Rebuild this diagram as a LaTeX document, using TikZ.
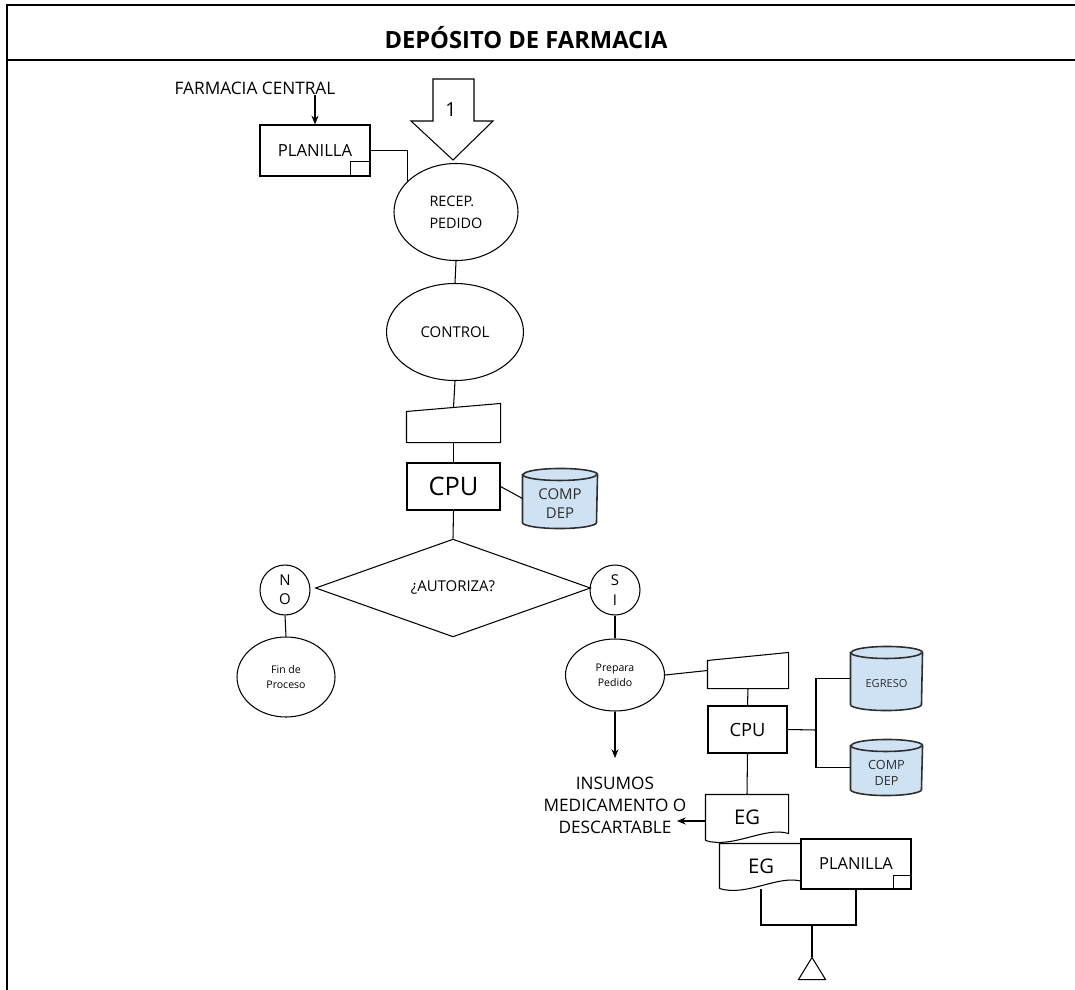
\documentclass[tikz,border=0pt]{standalone}
\usepackage{fontspec}
\setmainfont{Open Sans}
\usetikzlibrary{shapes.geometric,arrows.meta,backgrounds}
\newlength\pxu
\setlength\pxu{0.02cm}
\definecolor{dbfill}{HTML}{CFE2F3}
\definecolor{dbline}{HTML}{2E2E2E}
% cylinder drawn round a hidden rectangular node: #1 node name, #2 half width in px
\newcommand\cylshape[2]{%
  \filldraw[fill=dbfill,draw=dbline,line width=0.9pt]
    ([yshift=-6\pxu]#1.north west) -- ([yshift=6\pxu]#1.south west)
    arc[start angle=180,end angle=360,x radius=#2\pxu,y radius=6\pxu]
    -- ([yshift=-6\pxu]#1.north east)
    arc[start angle=0,end angle=180,x radius=#2\pxu,y radius=6\pxu] -- cycle;
  \draw[draw=dbline,line width=0.9pt] ([yshift=-6\pxu]#1.north west)
    arc[start angle=180,end angle=360,x radius=#2\pxu,y radius=6\pxu];}
\begin{document}
\begin{tikzpicture}[x=0.02cm,y=-0.02cm,line width=0.6pt,
  every node/.style={inner sep=0pt,align=center},
  oval/.style={draw,ellipse,inner sep=0pt},
  rbox/.style={draw,rectangle,inner sep=0pt},
  hid/.style={rectangle,inner sep=0pt},
  fmain/.style={font=\fontsize{8.5}{11}\selectfont},
  fsmall/.style={font=\fontsize{6}{8.5}\selectfont},
  fbig/.style={font=\fontsize{9.8}{12.6}\selectfont},
  dbtext/.style={text=dbline,yshift=-5\pxu},
  arr/.style={-{Stealth[length=5pt,width=4pt]}}]
\useasboundingbox (0,0) rectangle (1075,990);
% frame
\draw (7,990) -- (7,5) -- (1075,5);
\draw (7,60) -- (1075,60);
\node[font=\bfseries\fontsize{13.5}{15}\selectfont] (title) at (526,38) {DEPÓSITO DE FARMACIA};

% top left
\node[font=\fontsize{9.8}{12}\selectfont] (fc) at (255,88) {FARMACIA CENTRAL};
\node[rbox,font=\fontsize{9.5}{12}\selectfont,minimum width=110\pxu,minimum height=51\pxu] (pl1) at (315,150.5) {PLANILLA};
\draw ([xshift=-20\pxu]pl1.south east) rectangle ([yshift=15\pxu]pl1.south east);
\draw[arr] (fc.south -| pl1.north) -- (pl1.north);

% block arrow 1
\draw (433,79) -- (474,79) -- (474,121) -- (493,121) -- (453,160) -- (411,121) -- (433,121) -- cycle;
\node[font=\fontsize{11}{13}\selectfont] (one) at (451,110) {1};

% main column
\node[oval,font=\fontsize{8.2}{12.5}\selectfont,minimum width=124\pxu,minimum height=97\pxu,align=left] (recep) at (456,212) {RECEP.\\PEDIDO};
\draw (pl1.east) -| (recep.148);
\node[oval,fmain,minimum width=137\pxu,minimum height=97\pxu] (ctrl) at (455,332) {CONTROL};
\draw (recep.south) -- (ctrl.north);
\node[hid,minimum width=93\pxu,minimum height=38\pxu] (mi1) at (453.5,423) {};
\draw (mi1.south west) -- (mi1.south east) -- (mi1.north east) -- ([yshift=-8\pxu]mi1.north west) -- cycle;
\draw (ctrl.south) -- ([yshift=-4\pxu]mi1.north);
\node[rbox,font=\fontsize{14.5}{16}\selectfont,minimum width=93\pxu,minimum height=47\pxu] (cpu1) at (453.5,486.5) {CPU};
\draw (mi1.south) -- (cpu1.north);
\node[hid,minimum width=74\pxu,minimum height=59\pxu,
  label={[fmain,dbtext]center:COMP\\DEP}] (db1) at (560,498.5) {};
\begin{scope}[on background layer]\cylshape{db1}{37}\end{scope}
\draw (cpu1.east) -- (db1.west);

% decision
\node[draw,diamond,minimum width=275\pxu,minimum height=96\pxu,fmain] (aut) at (453,588) {¿AUTORIZA?};
\draw (cpu1.south) -- (aut.north);
\node[draw,circle,minimum size=50\pxu,fmain] (no) at (285,590) {N\\O};
\node[draw,circle,minimum size=50\pxu,fmain] (si) at (615,590) {S\\I};
\node[oval,fsmall,minimum width=98\pxu,minimum height=80\pxu] (fin) at (286,677) {Fin de\\Proceso};
\draw (no.south) -- (fin.north);
\node[oval,fsmall,minimum width=99\pxu,minimum height=72\pxu] (prep) at (615,675) {Prepara\\Pedido};
\draw (si.south) -- (prep.north);

% lower right
\node[hid,minimum width=80\pxu,minimum height=35\pxu] (mi2) at (748,670.5) {};
\draw (mi2.south west) -- (mi2.south east) -- (mi2.north east) -- ([yshift=-8\pxu]mi2.north west) -- cycle;
\draw (prep.east) -- (mi2.west);
\node[rbox,font=\fontsize{10.4}{12}\selectfont,minimum width=79\pxu,minimum height=47\pxu] (cpu2) at (747.5,729.5) {CPU};
\draw (mi2.south) -- (cpu2.north);
\node[hid,minimum width=71\pxu,minimum height=63\pxu,
  label={[font=\fontsize{6.3}{8}\selectfont,dbtext]center:EGRESO}] (db2) at (886.5,678.5) {};
\node[hid,minimum width=71\pxu,minimum height=55\pxu,
  label={[font=\fontsize{7.2}{9}\selectfont,dbtext]center:COMP\\DEP}] (db3) at (886.5,767.5) {};
\begin{scope}[on background layer]\cylshape{db2}{35.5}\cylshape{db3}{35.5}\end{scope}
\coordinate (br) at (816,730);
\draw (cpu2.east) -- (br);
\draw (db2.west) -| (br) |- (db3.west);

% insumos
\coordinate (insarr) at (615,758);
\draw[arr] (prep.south) -- (insarr);
\node[fbig] (ins) at (615,805) {INSUMOS\\MEDICAMENTO O\\DESCARTABLE};

% EG documents
\node[hid,font=\fontsize{11.5}{13}\selectfont,minimum width=82\pxu,minimum height=45\pxu] (eg1) at (747,817.5) {EG};
\draw (eg1.south west) -- (eg1.north west) -- (eg1.north east) -- ([yshift=7\pxu]eg1.south east)
  .. controls (765,826) and (733,849) .. (eg1.south west);
\draw (cpu2.south) -- (eg1.north);
\coordinate (insend) at (677,821);
\draw[arr] (eg1.west |- insend) -- (insend);

\node[hid,font=\fontsize{11.5}{13}\selectfont,minimum width=82\pxu,minimum height=44\pxu] (eg2) at (761,866) {EG};
\draw (eg2.south west) -- (eg2.north west) -- (eg2.north east) -- ([yshift=7\pxu]eg2.south east)
  .. controls (779,874) and (747,897) .. (eg2.south west);
\node[rbox,fill=white,font=\fontsize{9.4}{12}\selectfont,minimum width=110\pxu,minimum height=50\pxu] (pl2) at (856,864) {PLANILLA};
\draw ([xshift=-18\pxu]pl2.south east) rectangle ([yshift=14\pxu]pl2.south east);

% bracket and archive triangle
\coordinate (bm) at (812,925);
\draw (eg2.south) |- (bm) -| (pl2.south);
\node[hid,minimum width=26\pxu,minimum height=21\pxu] (tri) at (812,968.5) {};
\draw (tri.north) -- (tri.south east) -- (tri.south west) -- cycle;
\draw (bm) -- (tri.north);
\end{tikzpicture}
\end{document}
